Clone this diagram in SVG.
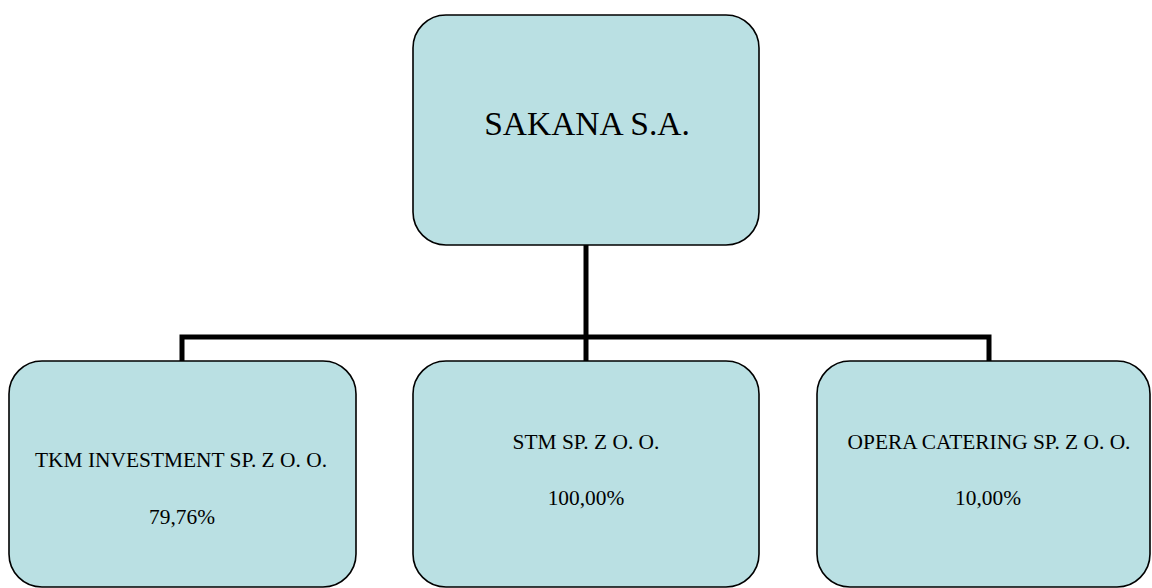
<svg xmlns="http://www.w3.org/2000/svg" width="1152" height="588" viewBox="0 0 1152 588">
<style>
.box{fill:#bae0e3;stroke:#000;stroke-width:1.6}
.t{font-family:"Liberation Serif",serif;fill:#000;text-anchor:middle}
.s{font-size:21.4px}
.conn{fill:none;stroke:#000;stroke-width:5}
</style>
<rect width="1152" height="588" fill="#fff"/>
<g id="connectors">
<line class="conn" x1="586" y1="245" x2="586" y2="361"/>
<polyline class="conn" points="182,361 182,337 989,337 989,361"/>
</g>
<g id="sakana">
<rect class="box" x="413" y="15" width="346" height="230" rx="33"/>
<text class="t" x="587" y="135" font-size="33.5">SAKANA S.A.</text>
</g>
<g id="tkm">
<rect class="box" x="9" y="361" width="347" height="226" rx="33"/>
<text class="t s" x="181" y="467">TKM INVESTMENT SP. Z O. O.</text>
<text class="t s" x="182" y="524">79,76%</text>
</g>
<g id="stm">
<rect class="box" x="413" y="361" width="346" height="226" rx="33"/>
<text class="t s" x="586" y="449">STM SP. Z O. O.</text>
<text class="t s" x="586" y="505">100,00%</text>
</g>
<g id="opera">
<rect class="box" x="817" y="361" width="333" height="226" rx="33"/>
<text class="t s" x="989" y="449">OPERA CATERING SP. Z O. O.</text>
<text class="t s" x="988" y="505">10,00%</text>
</g>
</svg>
